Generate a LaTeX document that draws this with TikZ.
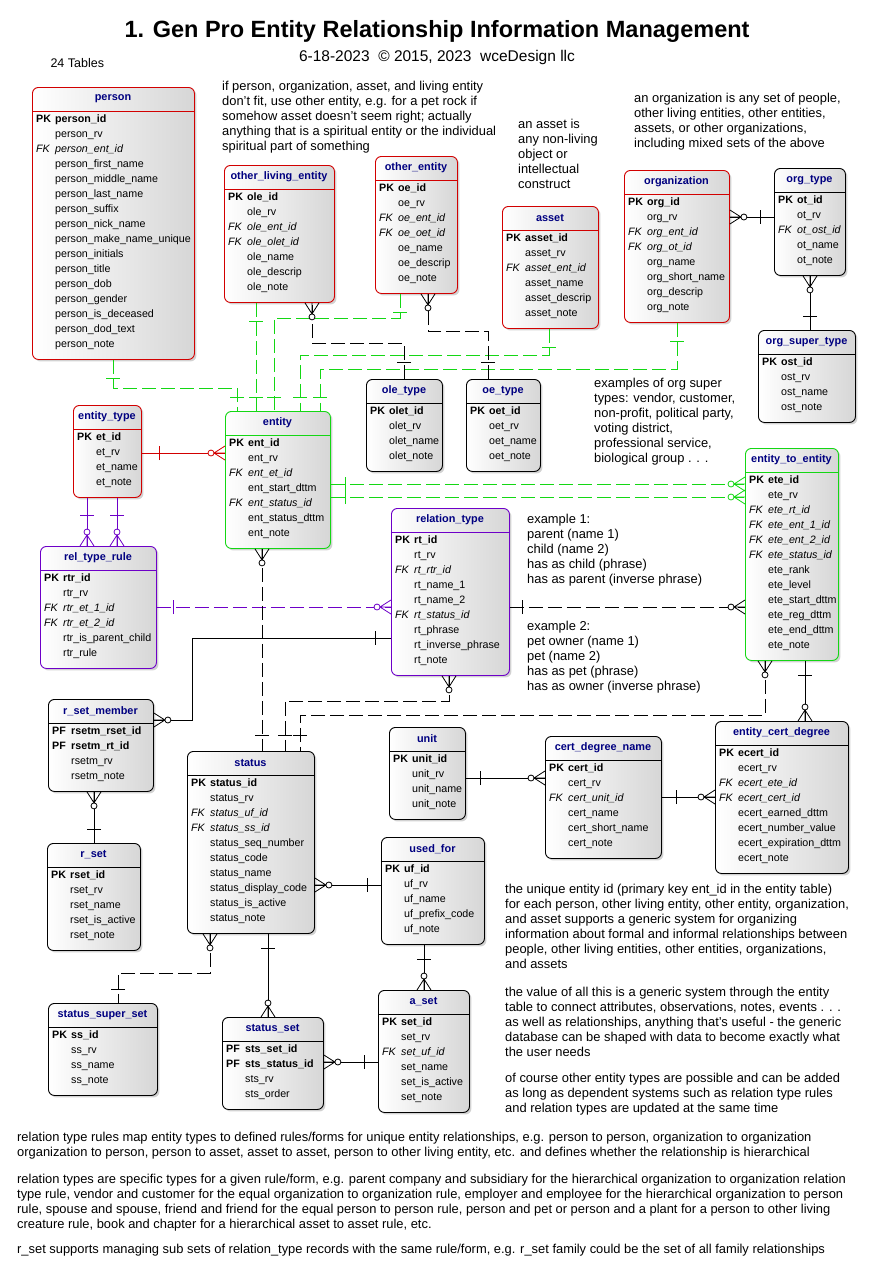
\documentclass[tikz,border=0pt]{standalone}
\usepackage{fontspec}
\setmainfont{Liberation Sans}
\usepackage{tikz}
\usetikzlibrary{calc,shadows}
\definecolor{erRed}{RGB}{210,0,0}
\definecolor{erGreen}{RGB}{20,215,20}
\definecolor{erPurple}{RGB}{110,0,200}
\definecolor{erNavy}{RGB}{0,0,128}
\tikzset{
  tblbox/.style={rounded corners=6pt, line width=0.9pt, left color=white, right color=black!16,
    drop shadow={opacity=0.35, shadow xshift=2pt, shadow yshift=-2pt}},
  tbltitle/.style={font=\fontsize{10.9}{13}\selectfont\bfseries, text=erNavy, inner sep=0pt},
  rowtext/.style={font=\fontsize{10.7}{12}\selectfont, inner sep=0pt, anchor=base west},
  row pk/.style={font=\fontsize{10.7}{12}\selectfont\bfseries},
  row pf/.style={font=\fontsize{10.7}{12}\selectfont\bfseries},
  row fk/.style={font=\fontsize{10.7}{12}\selectfont\itshape},
  row n/.style={},
  note/.style={font=\fontsize{12.9}{15}\selectfont, align=left, anchor=north west, inner sep=0pt},
  rel/.style={line width=0.8pt},
  dashrel/.style={line width=0.8pt, dash pattern=on 14pt off 5pt},
}
\def\ktpk{PK}\def\ktfk{FK}\def\ktpf{PF}\def\ktn{}
% name, title, colour, x, y, width, number of rows, rows
\newcommand{\tbl}[8]{%
  \node[tblbox, draw=#3, minimum width=#6pt, minimum height={(32+15*#7)*1pt}, anchor=north west, inner sep=0pt] (#1) at (#4,#5) {};
  \draw[#3, line width=0.9pt] (#4,#5+24) -- (#4+#6,#5+24);
  \node[tbltitle] (#1-title) at (#4+#6/2,#5+12) {#2};
  \foreach \k/\t [count=\i] in {#8} {
    \node[rowtext, row \k] at (#4+4,#5+20+15*\i) {\csname kt\k\endcsname};
    \node[rowtext, row \k] at (#4+23,#5+20+15*\i) {\t};
  }
}
% point, angle, colour
\newcommand{\crow}[3]{%
  \begin{scope}[shift={#1}, rotate=#2, x=1pt, y=1pt, draw=#3, line width=0.8pt]
    \draw (0,-7) -- (11,0) -- (0,7) (0,0) -- (11,0);
    \draw[fill=white] (14,0) circle (3);
  \end{scope}}
% point, angle, colour, distance
\newcommand{\onebar}[4]{%
  \begin{scope}[shift={#1}, rotate=#2, x=1pt, y=1pt, draw=#3, line width=0.8pt]
    \draw (#4,-7) -- (#4,7);
  \end{scope}}
\begin{document}
\begin{tikzpicture}[x=1pt, y=-1pt]
\useasboundingbox[fill=white] (0,0) rectangle (875,1286);

% heading
\node[font=\fontsize{23.5}{26}\selectfont\bfseries] (head) at (437,31) {1. Gen Pro Entity Relationship Information Management};
\node[font=\fontsize{15.5}{18}\selectfont] (sub) at (437,57) {6-18-2023\ \ © 2015, 2023\ \ wceDesign llc};
\node[font=\fontsize{12.5}{14}\selectfont, anchor=west] (count) at (47,63) {24 Tables};

% tables
\tbl{person}{person}{erRed}{32}{87}{162}{16}{pk/person\_id, n/person\_rv, fk/person\_ent\_id, n/person\_first\_name, n/person\_middle\_name, n/person\_last\_name, n/person\_suffix, n/person\_nick\_name, n/person\_make\_name\_unique, n/person\_initials, n/person\_title, n/person\_dob, n/person\_gender, n/person\_is\_deceased, n/person\_dod\_text, n/person\_note}
\tbl{ole}{other\_living\_entity}{erRed}{224}{165}{110}{7}{pk/ole\_id, n/ole\_rv, fk/ole\_ent\_id, fk/ole\_olet\_id, n/ole\_name, n/ole\_descrip, n/ole\_note}
\tbl{oe}{other\_entity}{erRed}{375}{156}{82}{7}{pk/oe\_id, n/oe\_rv, fk/oe\_ent\_id, fk/oe\_oet\_id, n/oe\_name, n/oe\_descrip, n/oe\_note}
\tbl{asset}{asset}{erRed}{502}{206}{96}{6}{pk/asset\_id, n/asset\_rv, fk/asset\_ent\_id, n/asset\_name, n/asset\_descrip, n/asset\_note}
\tbl{org}{organization}{erRed}{624}{170}{105}{8}{pk/org\_id, n/org\_rv, fk/org\_ent\_id, fk/org\_ot\_id, n/org\_name, n/org\_short\_name, n/org\_descrip, n/org\_note}
\tbl{otype}{org\_type}{black}{774}{168}{71}{5}{pk/ot\_id, n/ot\_rv, fk/ot\_ost\_id, n/ot\_name, n/ot\_note}
\tbl{ost}{org\_super\_type}{black}{758}{330}{97}{4}{pk/ost\_id, n/ost\_rv, n/ost\_name, n/ost\_note}
\tbl{etype}{entity\_type}{erRed}{73}{405}{68}{4}{pk/et\_id, n/et\_rv, n/et\_name, n/et\_note}
\tbl{entity}{entity}{erGreen}{225}{411}{105}{7}{pk/ent\_id, n/ent\_rv, fk/ent\_et\_id, n/ent\_start\_dttm, fk/ent\_status\_id, n/ent\_status\_dttm, n/ent\_note}
\tbl{olet}{ole\_type}{black}{366}{379}{76}{4}{pk/olet\_id, n/olet\_rv, n/olet\_name, n/olet\_note}
\tbl{oet}{oe\_type}{black}{466}{379}{74}{4}{pk/oet\_id, n/oet\_rv, n/oet\_name, n/oet\_note}
\tbl{ete}{entity\_to\_entity}{erGreen}{745}{448}{93}{12}{pk/ete\_id, n/ete\_rv, fk/ete\_rt\_id, fk/ete\_ent\_1\_id, fk/ete\_ent\_2\_id, fk/ete\_status\_id, n/ete\_rank, n/ete\_level, n/ete\_start\_dttm, n/ete\_reg\_dttm, n/ete\_end\_dttm, n/ete\_note}
\tbl{rtr}{rel\_type\_rule}{erPurple}{40}{546}{116}{6}{pk/rtr\_id, n/rtr\_rv, fk/rtr\_et\_1\_id, fk/rtr\_et\_2\_id, n/rtr\_is\_parent\_child, n/rtr\_rule}
\tbl{rt}{relation\_type}{erPurple}{391}{508}{118}{9}{pk/rt\_id, n/rt\_rv, fk/rt\_rtr\_id, n/rt\_name\_1, n/rt\_name\_2, fk/rt\_status\_id, n/rt\_phrase, n/rt\_inverse\_phrase, n/rt\_note}
\tbl{rsm}{r\_set\_member}{black}{48}{699}{105}{4}{pf/rsetm\_rset\_id, pf/rsetm\_rt\_id, n/rsetm\_rv, n/rsetm\_note}
\tbl{status}{status}{black}{187}{751}{127}{10}{pk/status\_id, n/status\_rv, fk/status\_uf\_id, fk/status\_ss\_id, n/status\_seq\_number, n/status\_code, n/status\_name, n/status\_display\_code, n/status\_is\_active, n/status\_note}
\tbl{unit}{unit}{black}{389}{727}{76}{4}{pk/unit\_id, n/unit\_rv, n/unit\_name, n/unit\_note}
\tbl{cert}{cert\_degree\_name}{black}{545}{736}{116}{6}{pk/cert\_id, n/cert\_rv, fk/cert\_unit\_id, n/cert\_name, n/cert\_short\_name, n/cert\_note}
\tbl{ecert}{entity\_cert\_degree}{black}{715}{721}{133}{8}{pk/ecert\_id, n/ecert\_rv, fk/ecert\_ete\_id, fk/ecert\_cert\_id, n/ecert\_earned\_dttm, n/ecert\_number\_value, n/ecert\_expiration\_dttm, n/ecert\_note}
\tbl{uf}{used\_for}{black}{381}{837}{103}{5}{pk/uf\_id, n/uf\_rv, n/uf\_name, n/uf\_prefix\_code, n/uf\_note}
\tbl{rset}{r\_set}{black}{47}{843}{93}{5}{pk/rset\_id, n/rset\_rv, n/rset\_name, n/rset\_is\_active, n/rset\_note}
\tbl{aset}{a\_set}{black}{378}{990}{91}{6}{pk/set\_id, n/set\_rv, fk/set\_uf\_id, n/set\_name, n/set\_is\_active, n/set\_note}
\tbl{sss}{status\_super\_set}{black}{48}{1003}{109}{4}{pk/ss\_id, n/ss\_rv, n/ss\_name, n/ss\_note}
\tbl{sts}{status\_set}{black}{222}{1017}{101}{4}{pf/sts\_set\_id, pf/sts\_status\_id, n/sts\_rv, n/sts\_order}

% green: supertype entity
\draw[dashrel, erGreen] ($(person.south west)+(81,0)$) -- ++(0,28) -| ($(entity.north west)+(12,0)$);
\draw[dashrel, erGreen] ($(ole.south west)+(32,0)$) -- ($(entity.north west)+(31,0)$);
\draw[dashrel, erGreen] ($(oe.south west)+(25,0)$) -- ++(0,24) -| ($(entity.north west)+(49,0)$);
\draw[dashrel, erGreen] ($(asset.south west)+(47,0)$) -- ++(0,26) -| ($(entity.north west)+(75,0)$);
\draw[dashrel, erGreen] ($(org.south west)+(53,0)$) -- ++(0,46) -| ($(entity.north west)+(95,0)$);
\foreach \src/\dx in {person/81, ole/32, oe/25, asset/47, org/53}
  \onebar{($(\src.south west)+(\dx,0)$)}{-90}{erGreen}{18};
\foreach \dx in {12, 31, 49, 75, 95}
  \onebar{($(entity.north west)+(\dx,0)$)}{90}{erGreen}{14};
\foreach \dy/\ey in {73/36, 86/49} {
  \draw[dashrel, erGreen] ($(entity.north east)+(0,\dy)$) -- ($(ete.north west)+(0,\ey)$);
  \onebar{($(entity.north east)+(0,\dy)$)}{0}{erGreen}{14};
  \crow{($(ete.north west)+(0,\ey)$)}{180}{erGreen};
}

% red and purple
\draw[rel, erRed] ($(etype.north east)+(0,48)$) -- ($(entity.north west)+(0,42)$);
\onebar{($(etype.north east)+(0,48)$)}{0}{erRed}{17};
\crow{($(entity.north west)+(0,42)$)}{180}{erRed};
\foreach \ex/\rx in {14/47, 44/77} {
  \draw[rel, erPurple] ($(etype.south west)+(\ex,0)$) -- ($(rtr.north west)+(\rx,0)$);
  \onebar{($(etype.south west)+(\ex,0)$)}{-90}{erPurple}{17};
  \crow{($(rtr.north west)+(\rx,0)$)}{90}{erPurple};
}
\draw[dashrel, erPurple] ($(rtr.north east)+(0,61)$) -- ($(rt.north west)+(0,99)$);
\onebar{($(rtr.north east)+(0,61)$)}{0}{erPurple}{16};
\crow{($(rt.north west)+(0,99)$)}{180}{erPurple};

% black dashed
\draw[dashrel] ($(olet.north west)+(38,0)$) -- ++(0,-36) -| ($(ole.south west)+(88,0)$);
\onebar{($(olet.north west)+(38,0)$)}{90}{black}{17};
\crow{($(ole.south west)+(88,0)$)}{-90}{black};
\draw[dashrel] ($(oet.north west)+(22,0)$) -- ++(0,-48) -| ($(oe.south west)+(53,0)$);
\onebar{($(oet.north west)+(22,0)$)}{90}{black}{17};
\crow{($(oe.south west)+(53,0)$)}{-90}{black};
\draw[dashrel] ($(entity.south west)+(37,0)$) -- ($(status.north west)+(75,0)$);
\crow{($(entity.south west)+(37,0)$)}{-90}{black};
\onebar{($(status.north west)+(75,0)$)}{90}{black}{16};
\draw[dashrel] ($(rt.south west)+(58,0)$) -- ++(0,25) -| ($(status.north west)+(98,0)$);
\crow{($(rt.south west)+(58,0)$)}{-90}{black};
\onebar{($(status.north west)+(98,0)$)}{90}{black}{16};
\draw[dashrel] ($(ete.south west)+(20,0)$) -- ++(0,54) -| ($(status.north west)+(113,0)$);
\crow{($(ete.south west)+(20,0)$)}{-90}{black};
\onebar{($(status.north west)+(113,0)$)}{90}{black}{16};
\draw[dashrel] ($(rt.north east)+(0,99)$) -- ($(ete.north west)+(0,159)$);
\onebar{($(rt.north east)+(0,99)$)}{0}{black}{12};
\crow{($(ete.north west)+(0,159)$)}{180}{black};
\draw[dashrel] ($(status.south west)+(23,0)$) -- ++(0,39) -| ($(sss.north west)+(70,0)$);
\crow{($(status.south west)+(23,0)$)}{-90}{black};
\onebar{($(sss.north west)+(70,0)$)}{90}{black}{14};

% black solid
\draw[rel] ($(org.north east)+(0,47)$) -- ($(otype.north west)+(0,49)$);
\crow{($(org.north east)+(0,47)$)}{0}{black};
\onebar{($(otype.north west)+(0,49)$)}{180}{black}{14};
\draw[rel] ($(otype.south west)+(36,0)$) -- ($(ost.north west)+(52,0)$);
\crow{($(otype.south west)+(36,0)$)}{-90}{black};
\onebar{($(ost.north west)+(52,0)$)}{90}{black}{14};
\draw[rel] ($(rt.north west)+(0,130)$) -| ($(rsm.north east)+(38,21)$) -- ($(rsm.north east)+(0,21)$);
\onebar{($(rt.north west)+(0,130)$)}{180}{black}{16};
\crow{($(rsm.north east)+(0,21)$)}{0}{black};
\draw[rel] ($(ete.south west)+(60,0)$) -- ($(ecert.north west)+(90,0)$);
\onebar{($(ete.south west)+(60,0)$)}{-90}{black}{14};
\crow{($(ecert.north west)+(90,0)$)}{90}{black};
\draw[rel] ($(unit.north east)+(0,51)$) -- ($(cert.north west)+(0,42)$);
\onebar{($(unit.north east)+(0,51)$)}{0}{black}{14};
\crow{($(cert.north west)+(0,42)$)}{180}{black};
\draw[rel] ($(cert.north east)+(0,61)$) -- ($(ecert.north west)+(0,76)$);
\onebar{($(cert.north east)+(0,61)$)}{0}{black}{14};
\crow{($(ecert.north west)+(0,76)$)}{180}{black};
\draw[rel] ($(rsm.south west)+(46,0)$) -- ($(rset.north west)+(47,0)$);
\crow{($(rsm.south west)+(46,0)$)}{-90}{black};
\onebar{($(rset.north west)+(47,0)$)}{90}{black}{14};
\draw[rel] ($(status.north east)+(0,134)$) -- ($(uf.north west)+(0,48)$);
\crow{($(status.north east)+(0,134)$)}{0}{black};
\onebar{($(uf.north west)+(0,48)$)}{180}{black}{14};
\draw[rel] ($(uf.south west)+(43,0)$) -- ($(aset.north west)+(46,0)$);
\onebar{($(uf.south west)+(43,0)$)}{-90}{black}{14};
\crow{($(aset.north west)+(46,0)$)}{90}{black};
\draw[rel] ($(status.south west)+(81,0)$) -- ($(sts.north west)+(46,0)$);
\onebar{($(status.south west)+(81,0)$)}{-90}{black}{14};
\crow{($(sts.north west)+(46,0)$)}{90}{black};
\draw[rel] ($(aset.north west)+(0,72)$) -- ($(sts.north east)+(0,45)$);
\onebar{($(aset.north west)+(0,72)$)}{180}{black}{14};
\crow{($(sts.north east)+(0,45)$)}{0}{black};

% notes
\node[note] (n-other) at (222,81) {if person, organization, asset, and living entity\\don't fit, use other entity, e.g. for a pet rock if\\somehow asset doesn't seem right; actually\\anything that is a spiritual entity or the individual\\spiritual part of something};
\node[note] (n-asset) at (518,119) {an asset is\\any non-living\\object or\\intellectual\\construct};
\node[note] (n-org) at (634,93) {an organization is any set of people,\\other living entities, other entities,\\assets, or other organizations,\\including mixed sets of the above};
\node[note] (n-ost) at (594,378) {examples of org super\\types: vendor, customer,\\non-profit, political party,\\voting district,\\professional service,\\biological group . . .};
\node[note] (n-ex1) at (527,514) {example 1:\\parent (name 1)\\child (name 2)\\has as child (phrase)\\has as parent (inverse phrase)};
\node[note] (n-ex2) at (527,621) {example 2:\\pet owner (name 1)\\pet (name 2)\\has as pet (phrase)\\has as owner (inverse phrase)};
\node[note] (n-id) at (505,884) {the unique entity id (primary key ent\_id in the entity table)\\for each person, other living entity, other entity, organization,\\and asset supports a generic system for organizing\\information about formal and informal relationships between\\people, other living entities, other entities, organizations,\\and assets};
\node[note] (n-value) at (505,987) {the value of all this is a generic system through the entity\\table to connect attributes, observations, notes, events . . .\\as well as relationships, anything that's useful - the generic\\database can be shaped with data to become exactly what\\the user needs};
\node[note] (n-course) at (505,1073) {of course other entity types are possible and can be added\\as long as dependent systems such as relation type rules\\and relation types are updated at the same time};
\node[note] (n-rtr) at (17,1132) {relation type rules map entity types to defined rules/forms for unique entity relationships, e.g. person to person, organization to organization\\organization to person, person to asset, asset to asset, person to other living entity, etc. and defines whether the relationship is hierarchical};
\node[note] (n-rt) at (17,1174) {relation types are specific types for a given rule/form, e.g. parent company and subsidiary for the hierarchical organization to organization relation\\type rule, vendor and customer for the equal organization to organization rule, employer and employee for the hierarchical organization to person\\rule, spouse and spouse, friend and friend for the equal person to person rule, person and pet or person and a plant for a person to other living\\creature rule, book and chapter for a hierarchical asset to asset rule, etc.};
\node[note] (n-rset) at (17,1244) {r\_set supports managing sub sets of relation\_type records with the same rule/form, e.g. r\_set family could be the set of all family relationships};
\end{tikzpicture}
\end{document}
